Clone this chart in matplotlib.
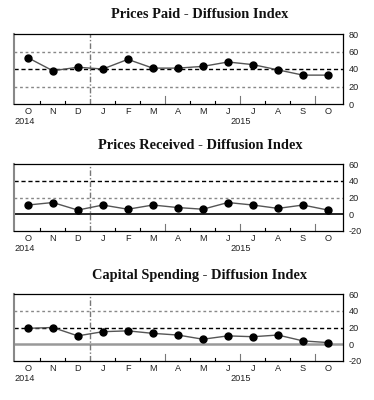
import numpy as np
import matplotlib
matplotlib.use('Agg')
import matplotlib.pyplot as plt

plt.rcParams['axes.unicode_minus'] = False
plt.rcParams['font.family'] = ['Liberation Sans', 'DejaVu Sans']

months = ['O', 'N', 'D', 'J', 'F', 'M', 'A', 'M', 'J', 'J', 'A', 'S', 'O']
prices_paid = [53, 38, 42, 40, 51, 41, 41, 43, 48, 45, 39, 33, 33]
prices_received = [11, 14, 5, 11, 6, 11, 8, 6, 14, 11, 7, 11, 5]
capital_spending = [19, 20, 10, 15, 16, 13, 11, 6, 10, 9, 11, 4, 2]

titles = ['Prices Paid - Diffusion Index',
          'Prices Received - Diffusion Index',
          'Capital Spending - Diffusion Index']
series = [prices_paid, prices_received, capital_spending]
ylims = [(0, 80), (-20, 60), (-20, 60)]
yticks = [[0, 20, 40, 60, 80], [-20, 0, 20, 40, 60], [-20, 0, 20, 40, 60]]
# (value, color, style, width) for reference lines
ref_lines = [
    [(20, '#888888', (0, (2, 2)), 1.0), (40, 'black', (0, (3, 2)), 1.0), (60, '#888888', (0, (2, 2)), 1.0)],
    [(0, 'black', '-', 1.2), (20, '#888888', (0, (2, 2)), 1.0), (40, 'black', (0, (3, 2)), 1.0)],
    [(0, '#999999', '-', 1.8), (20, 'black', (0, (3, 2)), 1.0), (40, '#888888', (0, (2, 2)), 1.0)],
]
boxes = [(34, 104), (164, 231), (294, 361)]  # top/bottom pixel rows
title_y = [15, 145, 276]

W, H = 374, 400
fig = plt.figure(figsize=(W / 100, H / 100), dpi=100)

x = np.arange(len(months))
short_ticks = [0.5, 1.5, 3.5, 4.5, 6.5, 7.5, 9.5, 10.5]
tall_ticks = [5.5, 8.5, 11.5]

for k in range(3):
    top, bot = boxes[k]
    ax = fig.add_axes([14 / W, 1 - bot / H, (343 - 14) / W, (bot - top) / H])
    for val, c, ls, lw in ref_lines[k]:
        ax.axhline(val, color=c, linestyle=ls, linewidth=lw, zorder=1)
    ax.axvline(2.5, color='#777777', linestyle=(0, (4, 1.5, 1, 1.5)), linewidth=1.0, zorder=1)
    ax.plot(x, series[k], color='#555555', linewidth=1.0, marker='o',
            markersize=5, markerfacecolor='black', markeredgecolor='black', zorder=3)
    ax.set_xlim(-0.55, 12.6)
    ax.set_ylim(*ylims[k])
    ax.set_yticks(yticks[k])
    ax.yaxis.tick_right()
    ax.tick_params(axis='y', length=0, pad=4, labelsize=6.6, labelcolor='#222222')
    ax.set_xticks(x)
    ax.set_xticklabels(months)
    ax.tick_params(axis='x', length=0, pad=2, labelsize=6.6, labelcolor='#222222')
    for t in short_ticks:
        ax.plot([t, t], [0, 0.05], transform=ax.get_xaxis_transform(), color='black', linewidth=0.8, clip_on=False)
    for t in tall_ticks:
        ax.plot([t, t], [0, 0.11], transform=ax.get_xaxis_transform(), color='#777777', linewidth=0.8, clip_on=False)
    for s in ['top', 'right', 'bottom']:
        ax.spines[s].set_color('black')
        ax.spines[s].set_linewidth(0.9)
    ax.spines['left'].set_color('#888888')
    ax.spines['left'].set_linewidth(1.5)
    ax.annotate('2014', xy=(-0.55, 0), xycoords=('data', 'axes fraction'),
                xytext=(0, -12.5), textcoords='offset points', fontsize=6.6,
                color='#222222', ha='left', va='center')
    ax.annotate('2015', xy=(8.5, 0), xycoords=('data', 'axes fraction'),
                xytext=(0, -12.5), textcoords='offset points', fontsize=6.6,
                color='#222222', ha='center', va='center')
    fig.text(200 / W, 1 - title_y[k] / H, titles[k], family='Liberation Serif',
             fontweight='bold', fontsize=10.4, ha='center', va='center', color='#111111')

fig.savefig('out.png', dpi=100)
